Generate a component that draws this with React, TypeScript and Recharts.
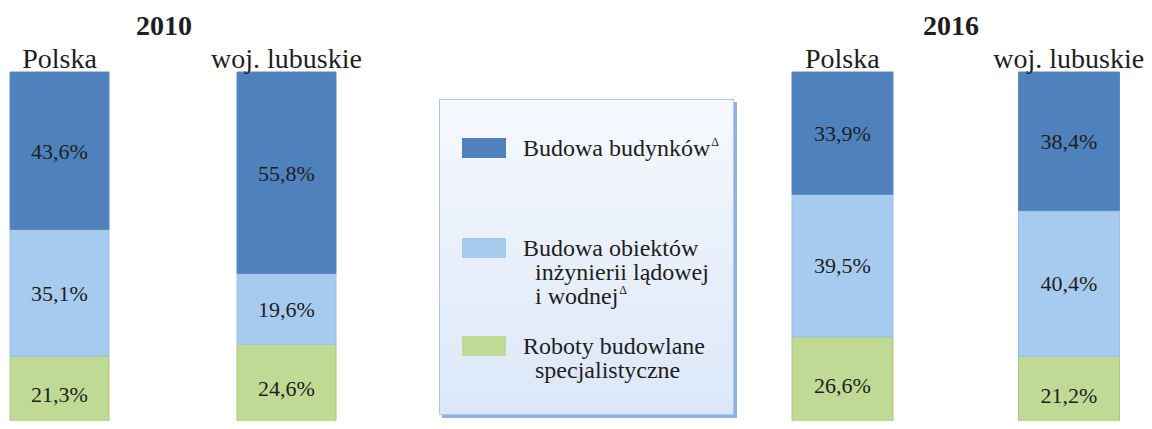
import React from "react"
import { BarChart, Bar, XAxis, YAxis, LabelList } from "recharts"

// areas shown as bars in each year
const areas = ["Polska", "woj. lubuskie"]

// shares (%) by construction division
const budynki2010 = [43.6, 55.8]
const inzynieria2010 = [35.1, 19.6]
const specjalistyczne2010 = [21.3, 24.6]

const budynki2016 = [33.9, 38.4]
const inzynieria2016 = [39.5, 40.4]
const specjalistyczne2016 = [26.6, 21.2]

const years = ["2010", "2016"]

// legend text, split into the lines used in the box
const legendLines = [
  ["Budowa budynków"],
  ["Budowa obiektów", "inżynierii lądowej", "i wodnej"],
  ["Roboty budowlane", "specjalistyczne"],
]
const legendMarked = [true, true, false]

const COLORS = { bud: "#4f81bd", inz: "#a7cbee", spec: "#c0da95" }
const STROKES = { bud: "#5a89c2", inz: "#98bfe8", spec: "#a9cc7c" }
const FONT = "'Liberation Serif', 'Times New Roman', serif"
const INK = "#1e1e1e"

const pct = (v: number) => v.toFixed(1).replace(".", ",") + "%"

function build(bud: number[], inz: number[], spec: number[]) {
  return areas.map((name, i) => ({ name, bud: bud[i], inz: inz[i], spec: spec[i] }))
}

function YearChart({
  data,
  left,
  width,
  barSize,
}: {
  data: { name: string; bud: number; inz: number; spec: number }[]
  left: number
  width: number
  barSize: number
}) {
  const label = (key: string) => (
    <LabelList
      dataKey={key}
      position="center"
      formatter={(v: any) => pct(Number(v))}
      fill={INK}
      fontSize={22}
      style={{ fontFamily: FONT }}
    />
  )
  return (
    <div style={{ position: "absolute", left, top: 0 }}>
      <BarChart
        width={width}
        height={440}
        data={data}
        margin={{ top: 42, right: 0, bottom: 7, left: 0 }}
        barSize={barSize}
      >
        <XAxis
          dataKey="name"
          orientation="top"
          height={30}
          axisLine={false}
          tickLine={false}
          tickSize={2}
          tickMargin={2}
          interval={0}
          tick={{ fontSize: 28, fontFamily: FONT, fill: INK }}
        />
        <YAxis hide domain={[0, 100]} />
        <Bar dataKey="spec" stackId="a" fill={COLORS.spec} stroke={STROKES.spec} strokeWidth={1} isAnimationActive={false}>
          {label("spec")}
        </Bar>
        <Bar dataKey="inz" stackId="a" fill={COLORS.inz} stroke={STROKES.inz} strokeWidth={1} isAnimationActive={false}>
          {label("inz")}
        </Bar>
        <Bar dataKey="bud" stackId="a" fill={COLORS.bud} stroke={STROKES.bud} strokeWidth={1} isAnimationActive={false}>
          {label("bud")}
        </Bar>
      </BarChart>
    </div>
  )
}

function LegendBox() {
  const swatches = [COLORS.bud, COLORS.inz, COLORS.spec]
  const tops = [36, 136, 234]
  return (
    <div
      style={{
        position: "absolute",
        left: 439,
        top: 99,
        width: 293,
        height: 314,
        border: "1px solid #a9c8ec",
        background: "linear-gradient(to bottom, #f6f9fe, #dbe7f8)",
        boxShadow: "3px 3px 0 #8fb3e1",
        fontFamily: FONT,
        fontSize: 24,
        color: INK,
      }}
    >
      {legendLines.map((lines, i) => (
        <div key={i} style={{ position: "absolute", left: 22, top: tops[i] }}>
          <div
            style={{
              position: "absolute",
              left: 0,
              top: 2,
              width: 44,
              height: 20,
              background: swatches[i],
            }}
          />
          <div style={{ position: "absolute", left: 61, top: 0, whiteSpace: "nowrap", lineHeight: "24px" }}>
            {lines.map((line, j) => (
              <div key={j} style={{ paddingLeft: j > 0 ? 12 : 0 }}>
                {line}
                {legendMarked[i] && j === lines.length - 1 ? (
                  <span style={{ fontSize: 12, position: "relative", top: -10, marginLeft: 1 }}>Δ</span>
                ) : null}
              </div>
            ))}
          </div>
        </div>
      ))}
    </div>
  )
}

export default function App() {
  return (
    <div
      style={{
        position: "relative",
        margin: "-8px -8px -8px -8px",
        width: 1152,
        height: 429,
        overflow: "hidden",
        background: "#fff",
      }}
    >
      <YearChart data={build(budynki2010, inzynieria2010, specjalistyczne2010)} left={-54} width={454} barSize={99} />
      <YearChart data={build(budynki2016, inzynieria2016, specjalistyczne2016)} left={729} width={453} barSize={101} />
      {years.map((y, i) => (
        <div
          key={y}
          style={{
            position: "absolute",
            left: i === 0 ? 164 - 40 : 951 - 40,
            width: 80,
            top: 12,
            textAlign: "center",
            fontFamily: FONT,
            fontWeight: "bold",
            fontSize: 28,
            lineHeight: "28px",
            color: INK,
          }}
        >
          {y}
        </div>
      ))}
      <LegendBox />
    </div>
  )
}
